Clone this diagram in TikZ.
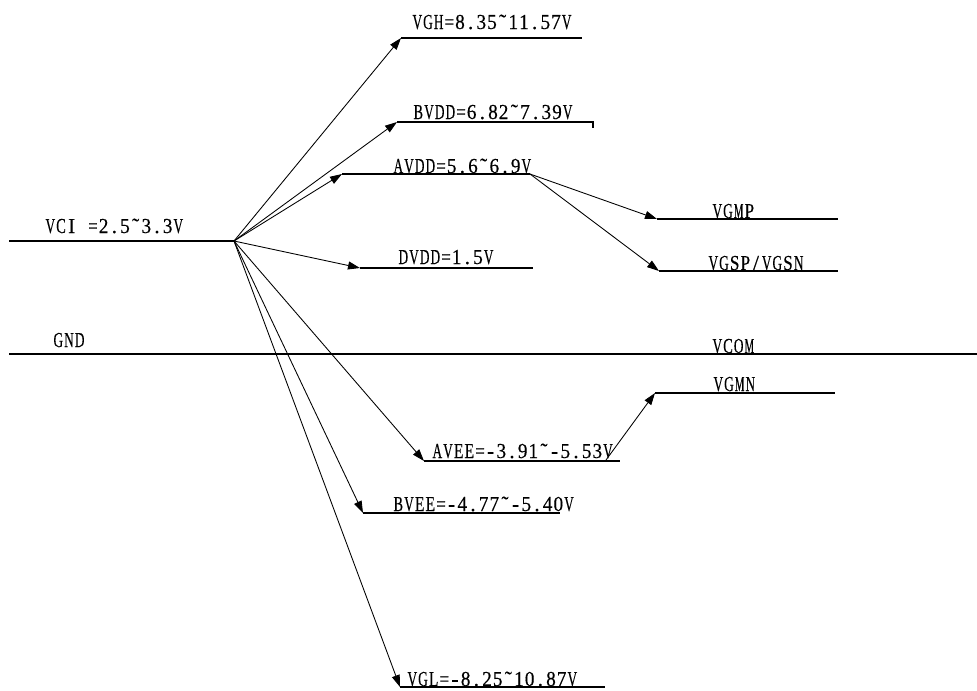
\documentclass[tikz,border=0pt]{standalone}
\usepackage{fontspec}
\usepackage{graphicx}
\setmainfont[FakeBold=0.35]{Liberation Serif}
\usetikzlibrary{arrows.meta}
\newlength\hwl
\newcommand\hwc[1]{\settowidth\hwl{#1}\ifdim\hwl>0.47em\makebox[0.5em]{\resizebox{0.45em}{\height}{#1}}\else\makebox[0.5em]{#1}\fi}
\def\hwloop#1{\ifx\relax#1\else\hwc{#1}\expandafter\hwloop\fi}
\newcommand\hw[1]{\hwloop#1\relax}
\begin{document}
\begin{tikzpicture}[x=0.75pt,y=-0.75pt,
  wire/.style={line width=0.85pt,black},
  arr/.style={line width=0.65pt,black,-{Triangle[length=9pt,width=6pt]}},
  lbl/.style={anchor=base west,inner sep=0pt,outer sep=0pt,font=\fontsize{16}{18}\selectfont}]
\useasboundingbox (0,0) rectangle (977,690);
% coordinates
\coordinate (hub) at (234,241);
\coordinate (vciL) at (9,241);
\coordinate (vghL) at (401,38);   \coordinate (vghR) at (582,38);
\coordinate (bvddL) at (397,122); \coordinate (bvddR) at (593,122); \coordinate (bvddT) at (593,128);
\coordinate (avddL) at (342,174); \coordinate (avddR) at (530,174);
\coordinate (vgmpL) at (657,219); \coordinate (vgmpR) at (838,219);
\coordinate (vgspL) at (659,271); \coordinate (vgspR) at (838,271);
\coordinate (dvddL) at (360,268); \coordinate (dvddR) at (533,268);
\coordinate (gndL) at (9,354);    \coordinate (gndR) at (977,354);
\coordinate (vgmnL) at (655,393); \coordinate (vgmnR) at (835,393);
\coordinate (aveeL) at (424,461); \coordinate (aveeR) at (620,461); \coordinate (aveeS) at (606,460);
\coordinate (bveeL) at (363,513); \coordinate (bveeR) at (560,513);
\coordinate (vglL) at (400,687);  \coordinate (vglR) at (605,687);
% horizontal rails
\draw[wire] (vciL) -- (hub);
\draw[wire] (vghL) -- (vghR);
\draw[wire] (bvddL) -- (bvddR) -- (bvddT);
\draw[wire] (avddL) -- (avddR);
\draw[wire] (vgmpL) -- (vgmpR);
\draw[wire] (vgspL) -- (vgspR);
\draw[wire] (dvddL) -- (dvddR);
\draw[wire] (gndL) -- (gndR);
\draw[wire] (vgmnL) -- (vgmnR);
\draw[wire] (aveeL) -- (aveeR);
\draw[wire] (bveeL) -- (bveeR);
\draw[wire] (vglL) -- (vglR);
% arrows
\draw[arr] (hub) -- (vghL);
\draw[arr] (hub) -- (bvddL);
\draw[arr] (hub) -- (avddL);
\draw[arr] (hub) -- (dvddL);
\draw[arr] (hub) -- (aveeL);
\draw[arr] (hub) -- (bveeL);
\draw[arr] (hub) -- (vglL);
\draw[arr] (avddR) -- (vgmpL);
\draw[arr] (avddR) -- (vgspL);
\draw[arr] (aveeS) -- (vgmnL);
% labels
\node[lbl] (tvci) at (45,233) {\hw{VCI{\ }=2.5˜3.3V}};
\node[lbl] (tvgh) at (412,29) {\hw{VGH=8.35˜11.57V}};
\node[lbl] (tbvdd) at (413,119) {\hw{BVDD=6.82˜7.39V}};
\node[lbl] (tavdd) at (393,173) {\hw{AVDD=5.6˜6.9V}};
\node[lbl] (tvgmp) at (712,218) {\hw{VGMP}};
\node[lbl] (tvgsp) at (708,270) {\hw{VGSP/VGSN}};
\node[lbl] (tdvdd) at (398,264) {\hw{DVDD=1.5V}};
\node[lbl] (tgnd) at (53,347) {\hw{GND}};
\node[lbl] (tvcom) at (712,353) {\hw{VCOM}};
\node[lbl] (tvgmn) at (713,391) {\hw{VGMN}};
\node[lbl] (tavee) at (432,458) {\hw{AVEE=-3.91˜-5.53V}};
\node[lbl] (tbvee) at (393,511) {\hw{BVEE=-4.77˜-5.40V}};
\node[lbl] (tvgl) at (407,686) {\hw{VGL=-8.25˜10.87V}};
\end{tikzpicture}
\end{document}
